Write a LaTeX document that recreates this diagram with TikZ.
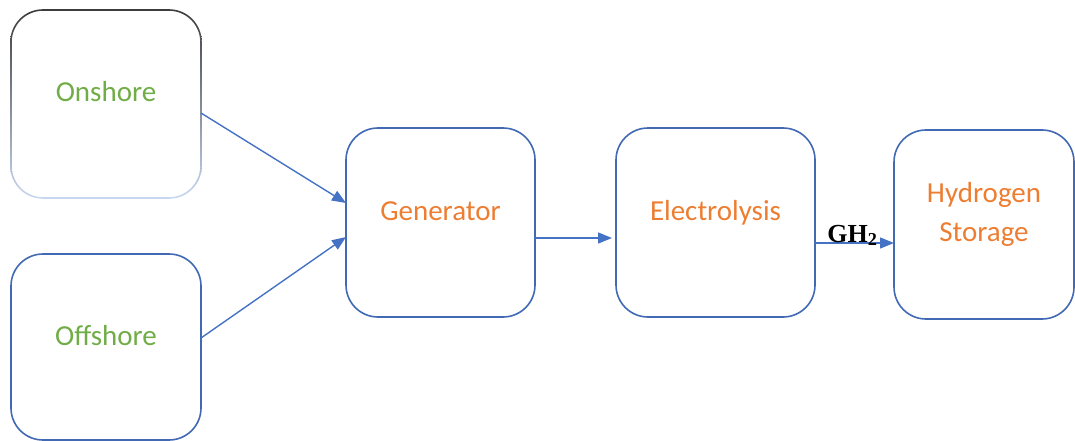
\documentclass[tikz,border=0pt]{standalone}
\usepackage{fontspec}
\setmainfont{Carlito}
\newfontfamily\gasfont{Liberation Serif}
\usetikzlibrary{arrows.meta,positioning,calc}
\definecolor{boxblue}{HTML}{4169B4}
\definecolor{arrowblue}{HTML}{4472C4}
\definecolor{srcgreen}{HTML}{70AD47}
\definecolor{steporange}{HTML}{ED7D31}
\definecolor{topgray}{HTML}{3C3C3C}
\definecolor{midgray}{HTML}{6A82AE}
\definecolor{lowblue}{HTML}{C9D8F2}

\begin{document}
\begin{tikzpicture}[
			x=1pt, y=-1pt,
			box/.style={rectangle,draw=boxblue,line width=1.6pt,rounded corners=32pt,
				minimum width=190pt,minimum height=189pt,outer sep=0pt,inner sep=0pt,
				font=\fontsize{29}{34}\selectfont,text height=18pt,text depth=22pt},
			source/.style={box,text=srcgreen},
			stage/.style={box,text=steporange},
			flow/.style={draw=arrowblue,line width=1.4pt,-{Triangle[length=14pt,width=11pt]}}
		]
		\useasboundingbox (0,0) rectangle (1075,441);

		% sources
		\node[source,draw=none,minimum height=188pt] (onshore) at (106,104) {Onshore};
		\shade[top color=topgray,middle color=midgray,bottom color=lowblue,even odd rule,rounded corners=32.8pt]
			([shift={(-0.8pt,0.8pt)}]onshore.north west) rectangle ([shift={(0.8pt,-0.8pt)}]onshore.south east)
			[rounded corners=31.2pt]
			([shift={(0.8pt,-0.8pt)}]onshore.north west) rectangle ([shift={(-0.8pt,0.8pt)}]onshore.south east);
		\node[source,minimum height=186pt] (offshore) at (106,347) {Offshore};

		% process chain
		\node[stage,minimum width=189pt] (gen) at (440.5,222.5) {Generator};
		\node[stage,minimum width=199pt] (elec) at (715.5,222.5) {Electrolysis};
		\node[stage,minimum width=180pt,align=center,font=\fontsize{29}{39}\selectfont,
			text height=57pt,text depth=24pt] (store) at (984,224.5) {Hydrogen\\Storage};

		\draw[flow] ([yshift=-9pt]onshore.east) -- ([yshift=19.5pt]gen.west);
		\draw[flow] ([yshift=9pt]offshore.east) -- ([yshift=-14.5pt]gen.west);
		\draw[flow,shorten >=4pt] ([yshift=-15.5pt]gen.east) -- ([yshift=-15.5pt]gen.east -| elec.west);
		\draw[flow] ([yshift=-20.5pt]elec.east) -- ([yshift=-20.5pt]elec.east -| store.west)
			node[midway,anchor=base,xshift=-2pt,yshift=1pt,text=black,font=\gasfont\bfseries\fontsize{26}{30}\selectfont] (gas) {GH\textsubscript{2}};

	\end{tikzpicture}
\end{document}
